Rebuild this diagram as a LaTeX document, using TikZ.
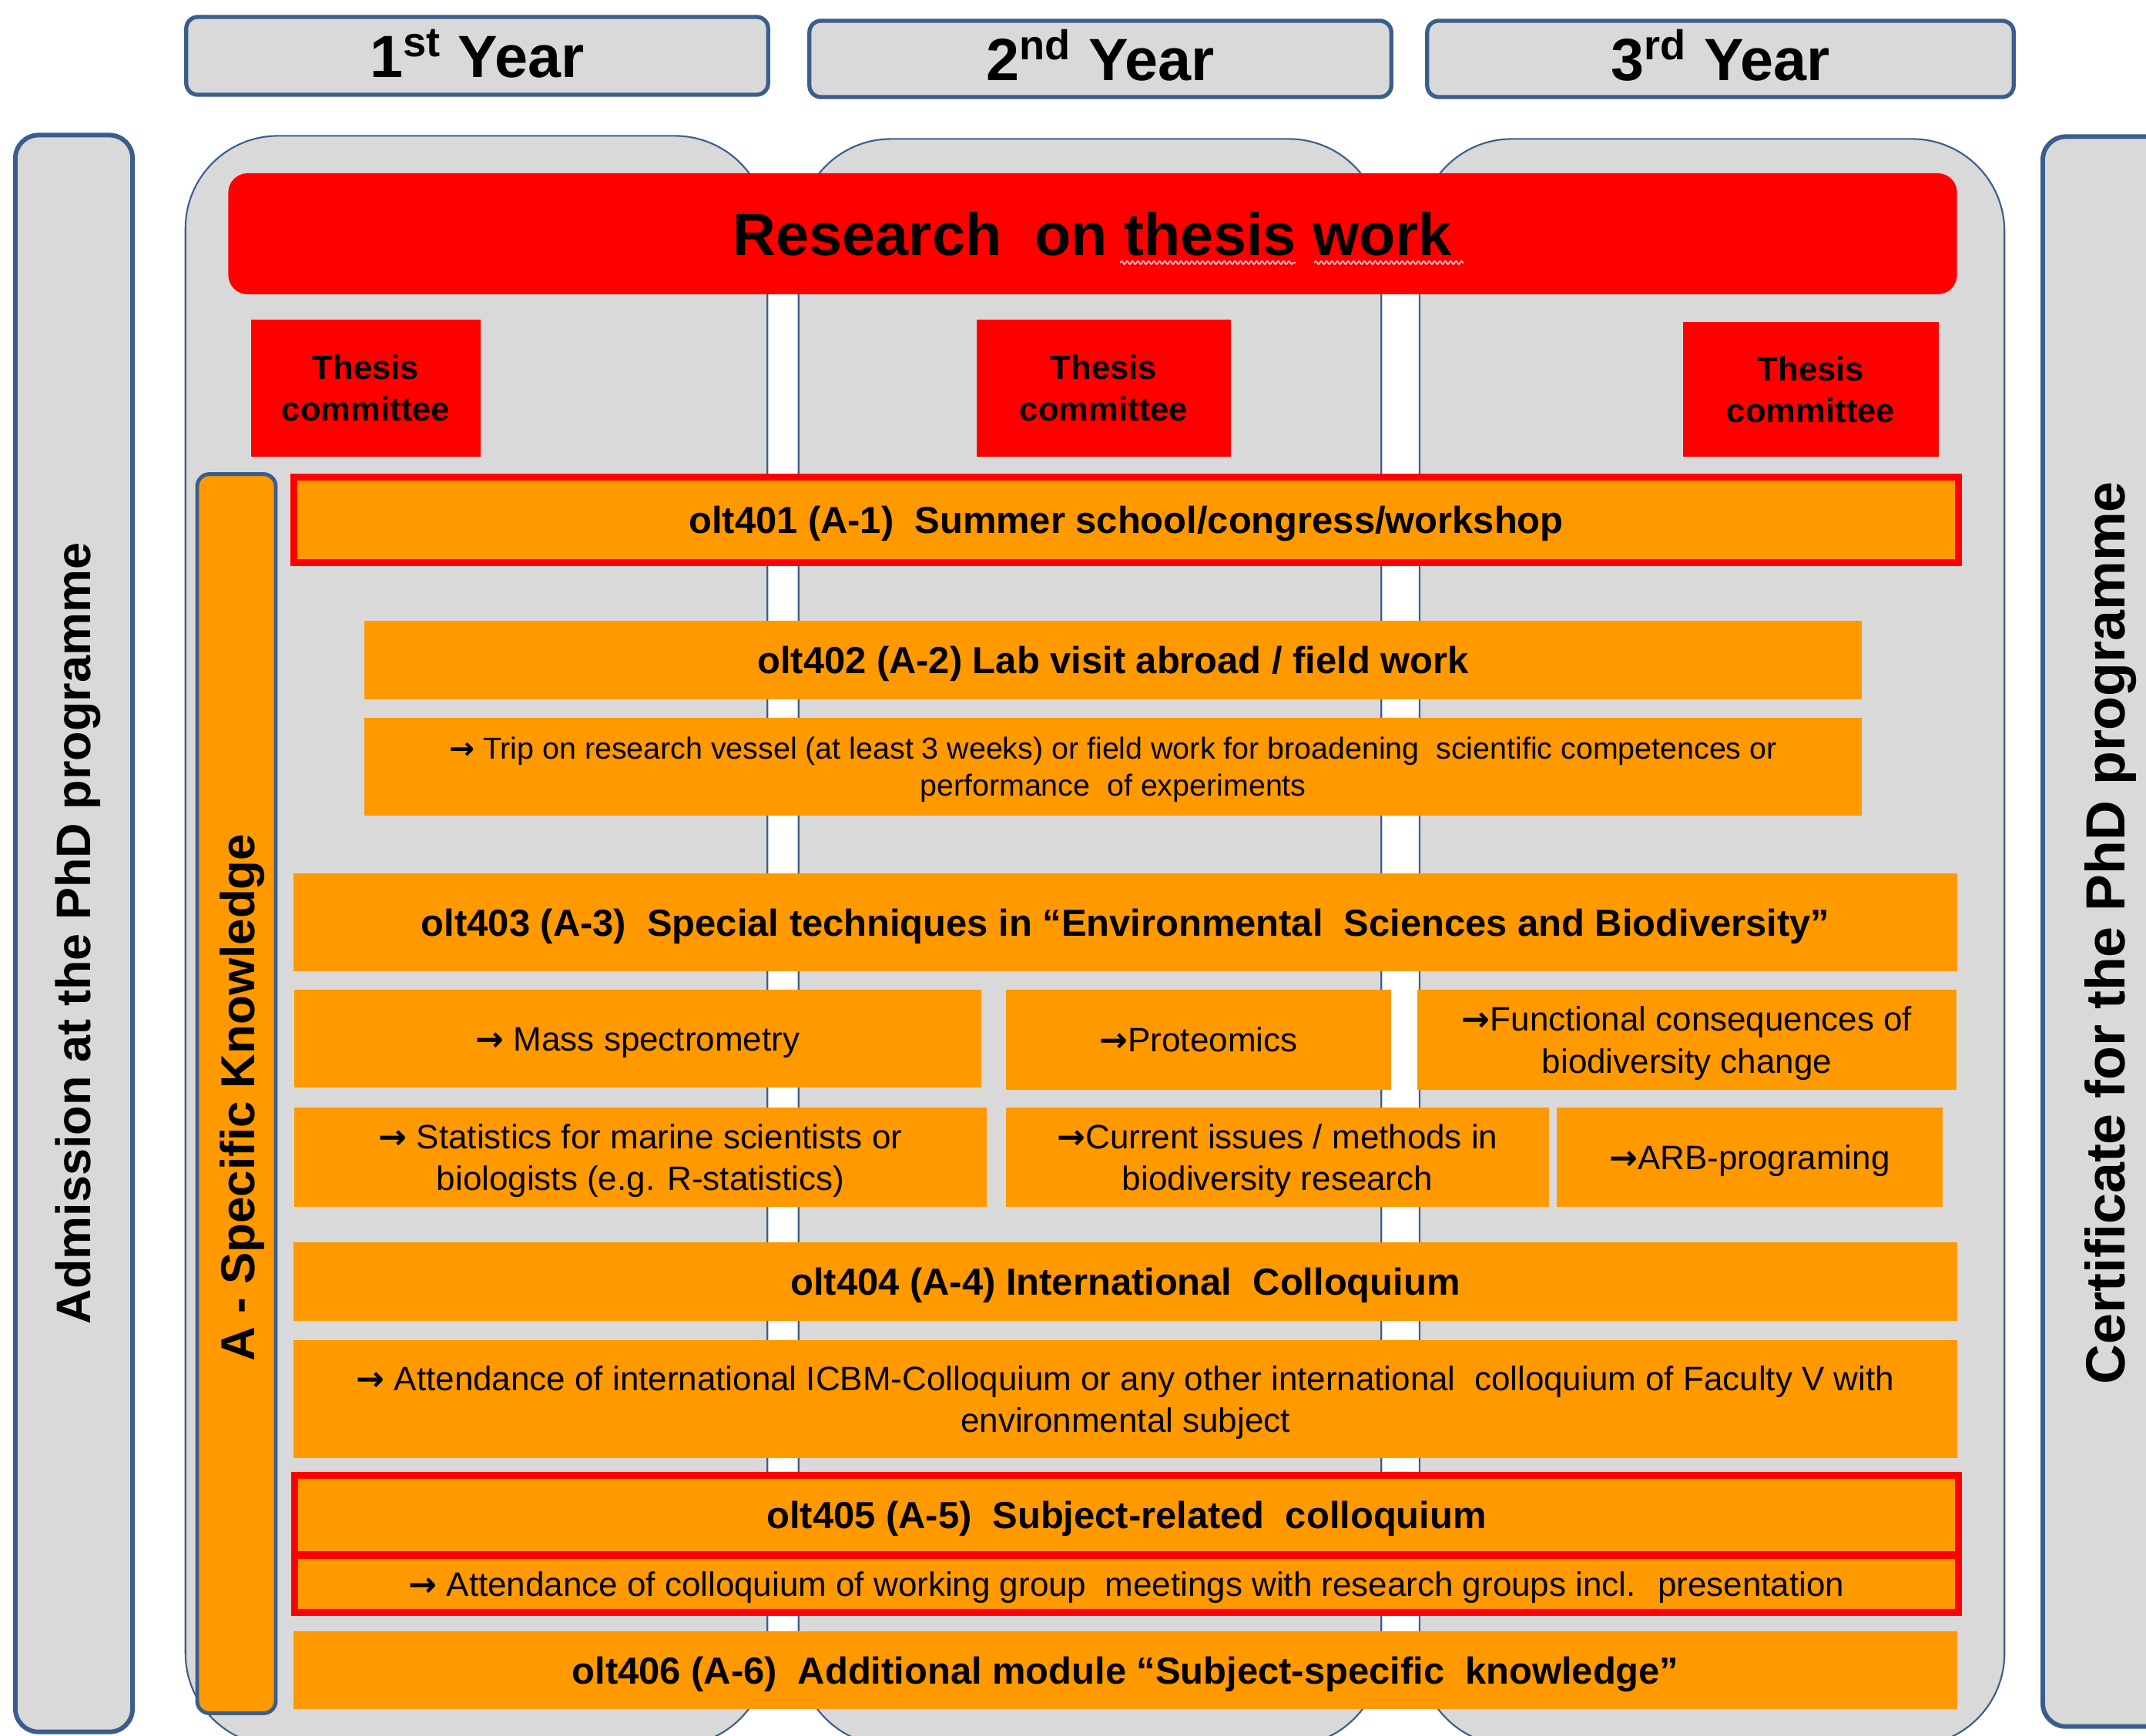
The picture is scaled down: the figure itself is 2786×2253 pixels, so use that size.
\documentclass[tikz,border=0pt]{standalone}
\usepackage{fontspec}
\setmainfont{Liberation Sans}
\newfontfamily\arrowfont{DejaVu Sans}
\usetikzlibrary{decorations.pathmorphing}
\definecolor{ogr}{HTML}{D9D9D9}
\definecolor{oblue}{HTML}{3A5E8C}
\definecolor{oor}{HTML}{FF9900}
\definecolor{ored}{HTML}{FF0000}
\definecolor{squig}{HTML}{F6C8C8}
\newcommand\rarr{{\arrowfont\bfseries →}}
\newcommand\mybox[7]{%
  \pgfmathsetmacro\mbw{(#4-#2)/100}%
  \pgfmathsetmacro\mbh{(#5-#3)/100}%
  \pgfmathsetmacro\mbx{(#2+#4)/2}%
  \pgfmathsetmacro\mby{(#3+#5)/2}%
  \node[#6, minimum width=\mbw cm, minimum height=\mbh cm] (#1) at (\mbx,\mby) {#7};%
}
\tikzset{
  yearbox/.style={draw=oblue, line width=1.5pt, fill=ogr, rounded corners=0.15cm, inner sep=0pt, text height=15.8pt, text depth=0pt, font=\fontsize{22}{26}\selectfont\bfseries},
  sidebox/.style={draw=oblue, line width=1.7pt, fill=ogr, rounded corners=0.3cm, inner sep=0pt},
  colbox/.style={draw=oblue, line width=0.6pt, fill=ogr, rounded corners=1.2cm, inner sep=0pt},
  resbox/.style={fill=ored, rounded corners=0.25cm, inner sep=0pt, text height=15.8pt, text depth=0pt, font=\fontsize{22}{26}\selectfont\bfseries},
  thbox/.style={fill=ored, inner sep=0pt, align=center, text depth=0pt, font=\fontsize{12.4}{15.4}\selectfont\bfseries},
  askbox/.style={draw=oblue, line width=1.4pt, fill=oor, rounded corners=0.16cm, inner sep=0pt},
  titlebox/.style={fill=oor, inner sep=0pt, align=center, text height=10pt, text depth=0pt, font=\fontsize{13.9}{16.7}\selectfont\bfseries},
  bodybox/.style={fill=oor, inner sep=0pt, align=center, text height=9pt, text depth=0pt, font=\fontsize{12.5}{15.6}\selectfont},
  bodytwo/.style={fill=oor, inner sep=0pt, align=center, text depth=0pt, font=\fontsize{12.5}{15.6}\selectfont},
  tripbox/.style={fill=oor, inner sep=0pt, align=center, text depth=0pt, font=\fontsize{11.2}{13.7}\selectfont},
  redframe/.style={draw=ored, line width=2.6pt},
  vtext/.style={rotate=90, anchor=base, inner sep=0pt},
  squiggle/.style={draw=squig, line width=0.5pt, decorate, decoration={snake, amplitude=0.02cm, segment length=0.07cm}},
}
\begin{document}
\begin{tikzpicture}[x=0.01cm, y=-0.01cm]
\useasboundingbox (0,0) rectangle (2786,2253);
\fill[white] (0,0) rectangle (2786,2253);
\clip (0,0) rectangle (2786,2253);

% year headers
\mybox{y1}{242}{22}{997}{123}{yearbox}{1\textsuperscript{st} Year}
\mybox{y2}{1051}{27}{1806}{126}{yearbox}{2\textsuperscript{nd} Year}
\mybox{y3}{1853}{27}{2614}{126}{yearbox}{3\textsuperscript{rd} Year}

% side boxes
\mybox{adm}{20}{176}{172}{2248}{sidebox}{}
\mybox{cert}{2652}{178}{2830}{2241}{sidebox}{}
\node[vtext, font=\fontsize{17.9}{21}\selectfont\bfseries] (admtext) at (117,1212) {Admission at the PhD programme};
\node[vtext, font=\fontsize{20.4}{24}\selectfont\bfseries] (certtext) at (2758,1211) {Certificate for the PhD programme};

% year columns
\mybox{col1}{241}{177}{996}{2266}{colbox}{}
\mybox{col2}{1037}{181}{1793}{2266}{colbox}{}
\mybox{col3}{1843}{181}{2602}{2266}{colbox}{}

% research
\mybox{res}{297}{225}{2540}{382}{resbox}{Research \ on thesis work}
\draw[squiggle] (1454,341) -- (1682,341);
\draw[squiggle] (1706,341) -- (1900,341);

% thesis committees
\mybox{th1}{326}{415}{624}{593}{thbox}{Thesis\\committee}
\mybox{th2}{1268}{415}{1598}{593}{thbox}{Thesis\\committee}
\mybox{th3}{2185}{418}{2517}{593}{thbox}{Thesis\\committee}

% A - Specific Knowledge
\mybox{ask}{256}{616}{358}{2224}{askbox}{}
\node[vtext, font=\fontsize{17.6}{21}\selectfont\bfseries] (asktext) at (330,1425) {A - Specific Knowledge};

% modules
\mybox{m1}{382.5}{619.5}{2541.5}{730.5}{titlebox, redframe}{olt401 (A-1) \ Summer school/congress/workshop}
\mybox{m2}{474}{806}{2416}{908}{titlebox}{olt402 (A-2) Lab visit abroad / field work}
\mybox{m2d}{474}{932}{2416}{1059}{tripbox}{\rarr\ Trip on research vessel (at least 3 weeks) or field work for broadening \ scientific competences or\\performance \ of experiments}
\mybox{m3}{382}{1134}{2540}{1261}{titlebox}{olt403 (A-3) \ Special techniques in “Environmental \ Sciences and Biodiversity”}
\mybox{mass}{382}{1285}{1274}{1412}{bodybox}{\rarr\ Mass spectrometry}
\mybox{prot}{1306}{1285}{1806}{1415}{bodybox}{\rarr Proteomics}
\mybox{func}{1840}{1285}{2540}{1415}{bodytwo}{\rarr Functional consequences of\\biodiversity change}
\mybox{stat}{382}{1438}{1281}{1567}{bodytwo}{\rarr\ Statistics for marine scientists or\\biologists (e.g. R-statistics)}
\mybox{curr}{1306}{1438}{2011}{1567}{bodytwo}{\rarr Current issues / methods in\\biodiversity research}
\mybox{arb}{2021}{1438}{2522}{1567}{bodybox}{\rarr ARB-programing}
\mybox{m4}{382}{1613}{2540}{1715}{titlebox}{olt404 (A-4) International \ Colloquium}
\mybox{m4d}{382}{1740}{2540}{1893}{bodytwo}{\rarr\ Attendance of international ICBM-Colloquium or any other international \ colloquium of Faculty V with\\environmental subject}
\mybox{m5}{383.5}{1915.5}{2541.5}{2019}{titlebox, redframe}{olt405 (A-5) \ Subject-related \ colloquium}
\mybox{m5d}{383.5}{2019}{2541.5}{2093.5}{bodybox, redframe}{\rarr\ Attendance of colloquium of working group \ meetings with research groups incl. \ presentation}
\mybox{m6}{382}{2118}{2540}{2219}{titlebox}{olt406 (A-6) \ Additional module “Subject-specific \ knowledge”}
\end{tikzpicture}
\end{document}
